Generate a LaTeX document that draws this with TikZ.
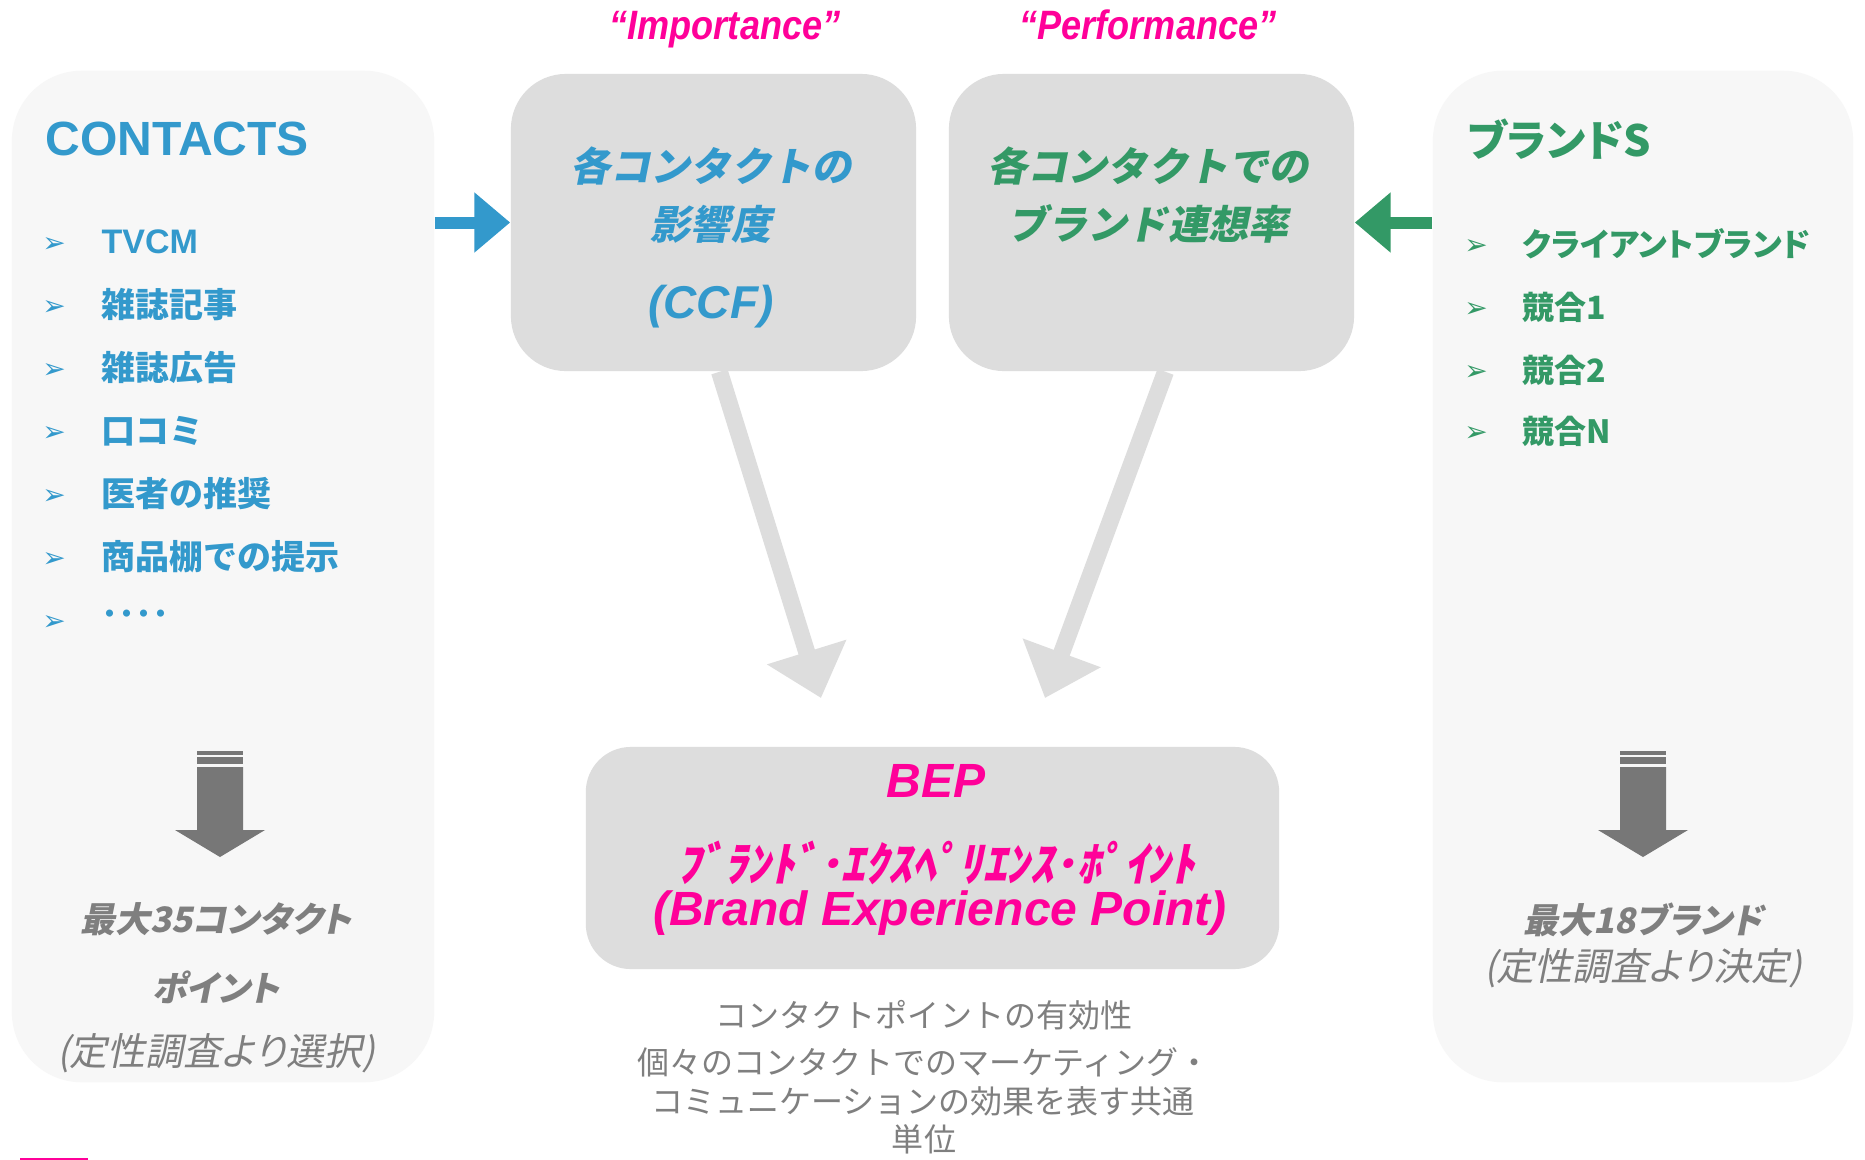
\documentclass[tikz,border=0pt]{standalone}
\usepackage{fontspec}
\setmainfont{Liberation Sans}
\newfontfamily\jp{Noto Sans CJK JP}
\newfontfamily\jpsl{Noto Sans CJK JP}[FakeSlant=0.2]
\newfontfamily\jpp{Noto Sans CJK JP}[RawFeature=+palt]
\newfontfamily\jpslp{Noto Sans CJK JP}[FakeSlant=0.2,RawFeature=+palt]
\newfontfamily\dv{DejaVu Sans}
\newfontfamily\cond{Liberation Sans}[FakeStretch=0.88]
\usetikzlibrary{arrows.meta,calc}
\definecolor{cblue}{HTML}{3399CC}
\definecolor{cgreen}{HTML}{339966}
\definecolor{cmag}{HTML}{FF0099}
\definecolor{boxg}{HTML}{DDDDDD}
\definecolor{panelg}{HTML}{F7F7F7}
\definecolor{txtg}{HTML}{7F7F7F}
\definecolor{arrg}{HTML}{777777}
\newcommand{\px}[1]{\fontsize{\fpeval{#1*0.28453}pt}{\fpeval{#1*0.28453*1.2}pt}\selectfont}
\newcommand{\grayarrow}[1]{%
  \fill[arrg] (#1-23,751) rectangle (#1+23,755);
  \fill[arrg] (#1-23,757) rectangle (#1+23,764);
  \fill[arrg] (#1-23,767) -- (#1+23,767) -- (#1+23,830) -- (#1+45,830) -- (#1,857) -- (#1-45,830) -- (#1-23,830) -- cycle;}
\begin{document}
\begin{tikzpicture}[x=0.01cm,y=-0.01cm,
  panel/.style={fill=panelg,draw=none,rounded corners=0.7cm,inner sep=0pt},
  gbox/.style={fill=boxg,draw=none,rounded corners=0.55cm,inner sep=0pt},
  bigarrow/.style={draw=boxg,line width=4.84pt,-{Triangle[width=22.8pt,length=13.7pt]}},
  sidearrow/.style={line width=3.41pt,-{Triangle[width=16.5pt,length=10.2pt]}},
  litem/.style={anchor=west,inner sep=0pt,text=cblue,font=\jp\bfseries\px{34}},
  ritem/.style={anchor=west,inner sep=0pt,text=cgreen,font=\jpp\bfseries\px{32}},
  bul/.style={inner sep=0pt,font=\dv\px{28}},
  gtxt/.style={inner sep=0pt,text=txtg,font=\jp\px{32}}
]
\useasboundingbox (0,0) rectangle (1865,1160);
\fill[white] (0,0) rectangle (1865,1160);

% panels and boxes
\node[panel,minimum width=4.22cm,minimum height=10.11cm] (contacts) at (223,576.5) {};
\node[panel,minimum width=4.20cm,minimum height=10.11cm] (brands) at (1643,576.5) {};
\node[gbox,minimum width=4.05cm,minimum height=2.97cm] (ccf) at (713.5,222.5) {};
\node[gbox,minimum width=4.05cm,minimum height=2.97cm] (perf) at (1151.5,222.5) {};
\node[gbox,rounded corners=0.45cm,minimum width=6.93cm,minimum height=2.22cm] (bep) at (932.5,858) {};

% side arrows
\draw[sidearrow,draw=cblue,fill=cblue] (contacts.east |- ccf.west) -- (ccf.west);
\draw[sidearrow,draw=cgreen,fill=cgreen] (brands.west |- perf.east) -- (perf.east);

% big gray arrows
\coordinate (tipL) at (821,698);
\coordinate (tipR) at (1045,698);
\draw[bigarrow,fill=boxg] ($(ccf.south)+(6,0)$) -- (tipL);
\draw[bigarrow,fill=boxg] ($(perf.south)+(14,0)$) -- (tipR);

% titles
\node[anchor=base,inner sep=0pt,text=cmag,font=\cond\bfseries\itshape\px{41}] (timp) at (725,39) {“Importance”};
\node[anchor=base,inner sep=0pt,text=cmag,font=\cond\bfseries\itshape\px{41}] (tperf) at (1148,39) {“Performance”};

% left panel
\node[anchor=west,inner sep=0pt,text=cblue,font=\bfseries\px{48}] (tcon) at (45,139) {CONTACTS};
\node[anchor=west,inner sep=0pt,text=cblue,font=\bfseries\px{34}] (li1) at (101,242) {TVCM};
\node[litem] (li2) at (101,305) {雑誌記事};
\node[litem] (li3) at (101,368) {雑誌広告};
\node[litem] (li4) at (101,431) {口コミ};
\node[litem] (li5) at (101,494) {医者の推奨};
\node[litem] (li6) at (101,557) {商品棚での提示};
\node[litem] (li7) at (101,618) {････};
\foreach \y [count=\i] in {245,308,371,434,497,560,623}
  \node[bul,text=cblue] (lb\i) at (54,\y) {➢};

% right panel
\node[anchor=west,inner sep=0pt,text=cgreen,font=\jpp\bfseries\px{43}] (tbr) at (1467,139) {ブランドS};
\node[ritem] (ri1) at (1522,244) {クライアントブランド};
\node[ritem] (ri2) at (1522,307) {競合1};
\node[ritem] (ri3) at (1522,370) {競合2};
\node[ritem] (ri4) at (1522,431) {競合N};
\foreach \y [count=\i] in {247,310,373,434}
  \node[bul,text=cgreen] (rb\i) at (1476,\y) {➢};

% gray down arrows
\grayarrow{220}
\grayarrow{1643}

\node[inner sep=0pt,text=txtg,font=\jpslp\bfseries\px{35}] (lg1) at (216,919) {最大35コンタクト};
\node[inner sep=0pt,text=txtg,font=\jpslp\bfseries\px{35}] (lg2) at (216,987) {ポイント};
\node[inner sep=0pt,text=txtg,font=\jpslp\px{38}] (lg3) at (216,1053) {(定性調査より選択)};
\node[inner sep=0pt,text=txtg,font=\jpslp\bfseries\px{35}] (rg1) at (1643,920) {最大18ブランド};
\node[inner sep=0pt,text=txtg,font=\jpslp\px{38}] (rg2) at (1643,968) {(定性調査より決定)};

% CCF box
\node[inner sep=0pt,text=cblue,font=\jpsl\bfseries\px{40}] (c1) at (711,166) {各コンタクトの};
\node[inner sep=0pt,text=cblue,font=\jpsl\bfseries\px{40}] (c2) at (711,224) {影響度};
\node[inner sep=0pt,text=cblue,font=\bfseries\itshape\px{46}] (c3) at (711,307) {(CCF)};

% Performance box
\node[inner sep=0pt,text=cgreen,font=\jpsl\bfseries\px{40}] (p1) at (1148,166) {各コンタクトでの};
\node[inner sep=0pt,text=cgreen,font=\jpsl\bfseries\px{40}] (p2) at (1148,224) {ブランド連想率};

% BEP box
\node[inner sep=0pt,text=cmag,font=\bfseries\itshape\px{48}] (b1) at (936,781) {BEP};
\node[inner sep=0pt,text=cmag,font=\jpsl\bfseries\px{47}] (b2) at (936,863) {ﾌﾞﾗﾝﾄﾞ･ｴｸｽﾍﾟﾘｴﾝｽ･ﾎﾟｲﾝﾄ};
\node[inner sep=0pt,text=cmag,font=\bfseries\itshape\px{48}] (b3) at (940,913) {(Brand Experience Point)};

% description
\node[gtxt] (d1) at (924,1015) {コンタクトポイントの有効性};
\node[gtxt] (d2) at (924,1062) {個々のコンタクトでのマーケティング・};
\node[gtxt] (d3) at (923,1101) {コミュニケーションの効果を表す共通};
\node[gtxt] (d4) at (924,1139) {単位};

% clipped fragment at bottom edge
\fill[cmag] (20,1158) rectangle (88,1160);
\end{tikzpicture}
\end{document}
